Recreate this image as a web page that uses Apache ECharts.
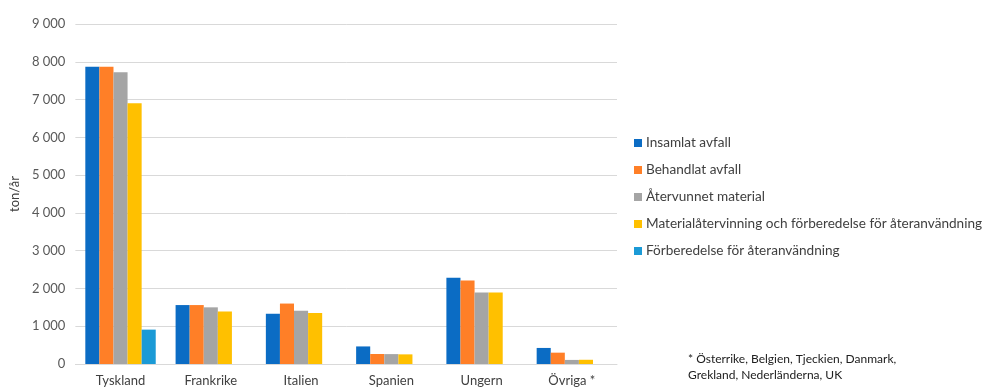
<!DOCTYPE html>
<html><head><meta charset="utf-8">
<script src="https://cdn.jsdelivr.net/npm/echarts@6/dist/echarts.min.js"></script>
<style>html,body{margin:0;padding:0;background:#fff}#c{width:987px;height:390px}</style>
</head><body><div id="c"></div>
<script>
const categories = ['Tyskland','Frankrike','Italien','Spanien','Ungern','Övriga *'];
const seriesNames = ['Insamlat avfall','Behandlat avfall','Återvunnet material','Materialåtervinning och förberedelse för återanvändning','Förberedelse för återanvändning'];
const insamlat = [7870,1560,1330,465,2280,425];
const behandlat = [7870,1560,1600,265,2210,300];
const atervunnet = [7720,1500,1410,262,1890,108];
const materialatervinning = [6900,1390,1350,255,1890,112];
const forberedelse = [910,0,0,0,0,0];
const yTicks = [0,1000,2000,3000,4000,5000,6000,7000,8000,9000];
const colors = ['#0B6CC4','#FF7F27','#A5A5A5','#FFC000','#1B9AD6'];
const footnote = ['* Österrike, Belgien, Tjeckien, Danmark,','Grekland, Nederländerna, UK'];

const values = [insamlat,behandlat,atervunnet,materialatervinning,forberedelse];
const font = 'Lato, "Open Sans", sans-serif';
const chart = echarts.init(document.getElementById('c'));
chart.setOption({
  animation:false,
  color:colors,
  textStyle:{fontFamily:font},
  grid:{left:72,right:370,top:24,bottom:26,containLabel:false},
  legend:{
    orient:'vertical',left:629,top:131,itemWidth:8,itemHeight:8,itemGap:13,
    icon:'rect',
    textStyle:{fontFamily:font,fontSize:13.6,color:'#404040',padding:[0,0,0,-1]},
    data:seriesNames
  },
  xAxis:{type:'category',data:categories,
    axisLine:{lineStyle:{color:'#D9D9D9'}},axisTick:{show:false},
    axisLabel:{fontFamily:font,fontSize:13,color:'#404040',margin:10}},
  yAxis:{type:'value',min:yTicks[0],max:yTicks[yTicks.length-1],interval:1000,
    name:'ton/år',nameLocation:'middle',nameGap:46,nameRotate:90,
    nameTextStyle:{fontFamily:font,fontSize:13,color:'#404040'},
    axisLine:{show:false},axisTick:{show:false},
    splitLine:{lineStyle:{color:'#D9D9D9'}},
    axisLabel:{fontFamily:font,fontSize:13,color:'#595959',margin:10,
      formatter:v=>String(v).replace(/\B(?=(\d{3})+(?!\d))/g,' ')}},
  series:seriesNames.map((n,i)=>({name:n,type:'bar',data:values[i],
    barGap:'0%',barCategoryGap:'22%'})),
  graphic:[{type:'text',left:688,top:351,style:{text:footnote.join('\n'),
    font:'12px '+font,fill:'#202020',lineHeight:16}}]
});
</script></body></html>
